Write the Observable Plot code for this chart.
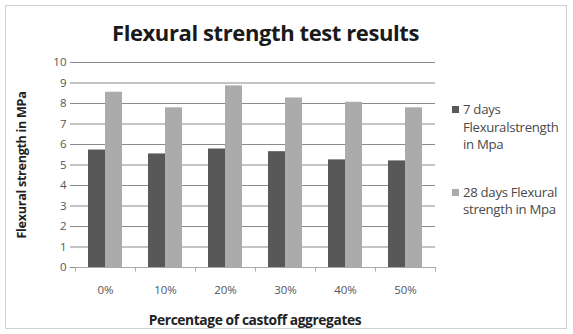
<!DOCTYPE html>
<html>
<head>
<meta charset="utf-8">
<script src="https://cdn.jsdelivr.net/npm/d3@7"></script>
<script src="https://cdn.jsdelivr.net/npm/@observablehq/plot@0.6"></script>
<style>
  html, body { margin: 0; padding: 0; background: #fff; }
  #frame {
    position: relative; width: 573px; height: 334px; overflow: hidden;
    font-family: "Open Sans", "Noto Sans", sans-serif; background: #fff;
  }
  #border {
    position: absolute; left: 5px; top: 5px; width: 562px; height: 324px;
    border: 1.5px solid #d0d0d0; box-sizing: border-box;
  }
  #title {
    position: absolute; left: 0; width: 531px; top: 17px; text-align: center;
    font-size: 22px; font-weight: 700; color: #1a1a1a; letter-spacing: -0.4px; line-height: 30px;
  }
  #legend { position: absolute; left: 452px; top: 101px; font-size: 13.2px; color: #4a4a4a; line-height: 17.5px; }
  .item { position: relative; padding-left: 11px; margin-bottom: 30px; letter-spacing: -0.3px; white-space: nowrap; }
  .swatch { position: absolute; left: 0; top: 5px; width: 7px; height: 7px; }
  #chart { position: absolute; left: 0; top: 0; }
</style>
</head>
<body>
<div id="frame">
  <div id="border"></div>
  <div id="chart"></div>
  <div id="title">Flexural strength test results</div>
  <div id="legend"></div>
</div>
<script>
// Percentage of castoff aggregates replacing natural aggregate
const categories = ["0%", "10%", "20%", "30%", "40%", "50%"];
// Flexural strength (MPa) after 7 and 28 days of curing
const days7 = [5.73, 5.54, 5.78, 5.65, 5.25, 5.20];
const days28 = [8.55, 7.79, 8.86, 8.27, 8.06, 7.79];
const seriesNames = ["7 days Flexuralstrength in Mpa", "28 days Flexural strength in Mpa"];
const seriesLegend = [["7 days", "Flexuralstrength", "in Mpa"], ["28 days Flexural", "strength in Mpa"]];
const yTicks = [0, 1, 2, 3, 4, 5, 6, 7, 8, 9, 10];
const colors = ["#585858", "#ababab"];

const rows = categories.flatMap((c, i) => [
  {category: c, series: seriesNames[0], value: days7[i]},
  {category: c, series: seriesNames[1], value: days28[i]}
]);

// width of one category slot and offset from the first bar's centre to the slot edge
const slot = (573 - 75 - 138) / categories.length;
const pad = 0.76;
const step = slot / (2 + 2 * pad);
const toEdge = pad * step + step / 2;

const chart = Plot.plot({
  width: 573,
  height: 334,
  marginLeft: 75,
  marginRight: 138,
  marginTop: 62,
  marginBottom: 67,
  style: {background: "transparent", fontFamily: "'Open Sans', 'Noto Sans', sans-serif"},
  fx: {domain: categories, paddingInner: 0, paddingOuter: 0, label: null},
  x: {domain: seriesNames, paddingInner: 0, paddingOuter: pad, axis: null},
  y: {domain: [0, 10], ticks: yTicks, label: null},
  color: {domain: seriesNames, range: colors},
  marks: [
    Plot.gridY(yTicks, {stroke: "#8a8a8a", strokeOpacity: 1, strokeWidth: 1}),
    Plot.axisY(yTicks, {
      tickSize: 5, tickPadding: 4, stroke: "#8a8a8a", fill: "#555", fontSize: 11.5,
      label: null
    }),
    Plot.axisFx({anchor: "bottom", tickSize: 0, tickPadding: 18, fill: "#555", fontSize: 11.5, label: null}),
    Plot.barY(rows, {fx: "category", x: "series", y: "value", fill: "series"}),
    Plot.ruleX([0], {frameAnchor: "left", stroke: "#c8c8c8"}),
    Plot.ruleY([0], {stroke: "#a8a8a8"}),
    // category boundary tick marks below the baseline
    Plot.ruleX(categories, {fx: d => d, x: () => seriesNames[0], dx: -toEdge, y1: 0, y2: -0.22, stroke: "#a8a8a8"}),
    Plot.ruleX(categories.slice(-1), {fx: d => d, x: () => seriesNames[0], dx: slot - toEdge, y1: 0, y2: -0.22, stroke: "#a8a8a8"})
  ]
});

const svg = d3.select(chart);
// axis titles
svg.append("text")
  .attr("transform", "translate(26,165) rotate(-90)")
  .attr("text-anchor", "middle")
  .attr("font-size", 12.6).attr("font-weight", 700).attr("fill", "#222")
  .attr("letter-spacing", -0.3)
  .text("Flexural strength in MPa");
svg.append("text")
  .attr("x", 255).attr("y", 325)
  .attr("text-anchor", "middle")
  .attr("font-size", 13.8).attr("font-weight", 700).attr("fill", "#222")
  .attr("letter-spacing", -0.4)
  .text("Percentage of castoff aggregates");

document.getElementById("chart").appendChild(chart);

const legend = d3.select("#legend");
seriesNames.forEach((name, i) => {
  const item = legend.append("div").attr("class", "item");
  item.append("div").attr("class", "swatch").style("background", colors[i]);
  seriesLegend[i].forEach(line => item.append("div").text(line));
});
</script>
</body>
</html>
